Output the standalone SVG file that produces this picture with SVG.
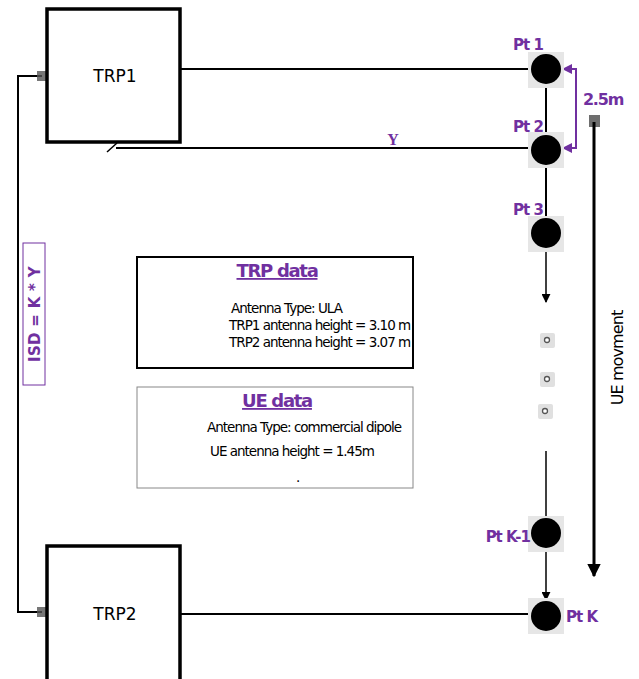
<svg xmlns="http://www.w3.org/2000/svg" width="639" height="679" viewBox="0 0 639 679">
<defs>
<marker id="ah" viewBox="0 0 10 10" refX="9" refY="5" markerWidth="6" markerHeight="6" orient="auto"><path d="M0,0 L10,5 L0,10 z" fill="#000"/></marker>
<marker id="ahp" viewBox="0 0 10 10" refX="9" refY="5" markerWidth="5" markerHeight="5" orient="auto"><path d="M0,0 L10,5 L0,10 z" fill="#7030a0"/></marker>
<marker id="ahb" viewBox="0 0 10 10" refX="9" refY="5" markerWidth="4.5" markerHeight="4.5" orient="auto"><path d="M0,0 L10,5 L0,10 z" fill="#000"/></marker>
</defs>
<style>
.box{fill:#fff;stroke:#000;stroke-width:3.5}
.lbl{font-family:"DejaVu Sans",sans-serif;font-size:17px;fill:#000}
.pt{font-family:"DejaVu Sans",sans-serif;font-size:15px;font-weight:bold;fill:#7030a0;letter-spacing:-1px}
.bg{fill:#e6e6e6}
.dot{fill:#000}
.ln{stroke:#000;stroke-width:2;fill:none}
.tx{font-family:"DejaVu Sans",sans-serif;font-size:13.5px;fill:#000;letter-spacing:-1px}
.hd{font-family:"DejaVu Sans",sans-serif;font-size:18px;font-weight:bold;fill:#7030a0;letter-spacing:-1.3px;text-decoration:underline}
.pur{font-family:"DejaVu Sans",sans-serif;font-weight:bold;fill:#7030a0}
.sm{fill:#e0e0e0}
</style>
<rect width="639" height="679" fill="#fff"/>
<g id="connectors">
<path class="ln" d="M42,76 H18 V612 H42"/>
<rect x="37" y="71" width="10" height="10" fill="#555" opacity="0.8"/>
<rect x="37" y="607" width="10" height="10" fill="#555" opacity="0.8"/>
<line class="ln" x1="180" y1="69" x2="545" y2="69"/>
<line class="ln" x1="116" y1="148" x2="545" y2="148"/>
<line x1="107" y1="152" x2="117" y2="143" stroke="#000" stroke-width="1.5"/>
<line class="ln" x1="180" y1="614" x2="545" y2="614"/>
<line x1="546" y1="69" x2="546" y2="233" stroke="#000" stroke-width="2"/>
<line x1="546" y1="233" x2="546" y2="302" stroke="#000" stroke-width="1.5" marker-end="url(#ah)"/>
<line x1="546" y1="451" x2="546" y2="533" stroke="#000" stroke-width="1.5"/>
<line x1="546" y1="533" x2="546" y2="600" stroke="#000" stroke-width="1.5" marker-end="url(#ah)"/>
<rect x="589" y="115" width="11" height="12" fill="#555" opacity="0.85"/>
<line x1="594" y1="122" x2="594" y2="576" stroke="#000" stroke-width="3" marker-end="url(#ahb)"/>
<path d="M576,69 V148" stroke="#7030a0" stroke-width="2" fill="none"/>
<line x1="577" y1="69" x2="563" y2="69" stroke="#7030a0" stroke-width="2" marker-end="url(#ahp)"/>
<line x1="577" y1="148" x2="563" y2="148" stroke="#7030a0" stroke-width="2" marker-end="url(#ahp)"/>
<text x="393" y="145" font-family="Liberation Serif,serif" font-size="16" font-weight="bold" fill="#7030a0" text-anchor="middle">Y</text>
</g>
<g id="trp1">
<rect class="box" x="47" y="9" width="133" height="133"/>
<text class="lbl" x="115" y="82" text-anchor="middle">TRP1</text>
</g>
<g id="trp2">
<rect class="box" x="47" y="546" width="133" height="140"/>
<text class="lbl" x="115" y="620" text-anchor="middle">TRP2</text>
</g>
<g id="isd">
<rect x="23" y="243" width="22" height="142" fill="#fff" stroke="#7030a0" stroke-width="1"/>
<text class="pur" font-size="15" transform="translate(40,314) rotate(-90)" text-anchor="middle" letter-spacing="0.3">ISD = K * Y</text>
</g>
<g id="pt1">
<rect class="bg" x="528" y="52" width="36" height="36"/>
<circle class="dot" cx="546" cy="69" r="15"/>
<text class="pt" x="528" y="50" text-anchor="middle">Pt 1</text>
</g>
<g id="pt2">
<rect class="bg" x="528" y="132" width="36" height="36"/>
<circle class="dot" cx="546" cy="150" r="15"/>
<text class="pt" x="528" y="132" text-anchor="middle">Pt 2</text>
</g>
<g id="pt3">
<rect class="bg" x="528" y="216" width="36" height="36"/>
<circle class="dot" cx="546" cy="233" r="15"/>
<text class="pt" x="528" y="215" text-anchor="middle">Pt 3</text>
</g>
<g id="dots">
<rect class="sm" x="540" y="333" width="15" height="15" rx="2"/>
<circle cx="547" cy="340" r="2.5" fill="#fff" stroke="#555" stroke-width="1.3"/>
<rect class="sm" x="540" y="372" width="15" height="15" rx="2"/>
<circle cx="547" cy="379" r="2.5" fill="#fff" stroke="#555" stroke-width="1.3"/>
<rect class="sm" x="538" y="404" width="15" height="15" rx="2"/>
<circle cx="545" cy="411" r="2.5" fill="#fff" stroke="#555" stroke-width="1.3"/>
</g>
<g id="ptk1">
<rect class="bg" x="528" y="516" width="36" height="36"/>
<circle class="dot" cx="546" cy="533" r="15"/>
<text class="pt" x="530" y="542" text-anchor="end">Pt K-1</text>
</g>
<g id="ptk">
<rect class="bg" x="528" y="598" width="36" height="36"/>
<circle class="dot" cx="546" cy="616" r="15"/>
<text class="pt" x="566" y="622">Pt K</text>
</g>
<g id="spacing">
<text class="pur" x="603" y="105" font-size="16" text-anchor="middle" letter-spacing="-1.2">2.5m</text>
</g>
<g id="movement">
<text transform="translate(623,358) rotate(-90)" font-family="DejaVu Sans,sans-serif" font-size="16" text-anchor="middle" letter-spacing="-0.9">UE movment</text>
</g>
<g id="trpdata">
<rect x="137" y="257" width="276" height="111" fill="#fff" stroke="#000" stroke-width="2"/>
<text class="hd" x="277" y="277" text-anchor="middle">TRP data</text>
<text class="tx" x="231" y="313">Antenna Type: ULA</text>
<text class="tx" x="229" y="330">TRP1 antenna height  = 3.10 m</text>
<text class="tx" x="229" y="347">TRP2 antenna height  = 3.07 m</text>
</g>
<g id="uedata">
<rect x="137" y="387" width="276" height="101" fill="#fff" stroke="#888" stroke-width="1"/>
<text class="hd" x="277" y="407" text-anchor="middle">UE data</text>
<text class="tx" x="207" y="432">Antenna Type: commercial dipole</text>
<text class="tx" x="210" y="456">UE antenna height = 1.45m</text>
<text class="tx" x="296" y="482">.</text>
</g>
</svg>
